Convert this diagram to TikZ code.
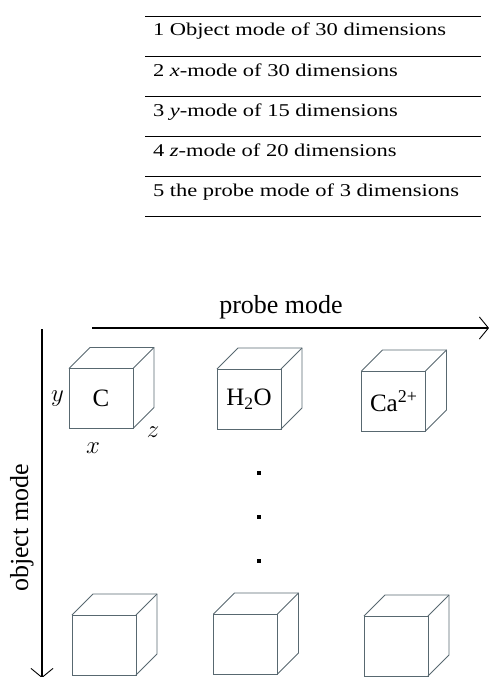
\documentclass[tikz,border=0pt]{standalone}
\usepackage{fontspec}
\setmainfont{Liberation Serif}
\newfontfamily\tabfont[FakeStretch=1.25]{Liberation Serif}
\usepackage{tikz}
\usetikzlibrary{arrows.meta,positioning}
\definecolor{cubeline}{RGB}{88,104,112}

\begin{document}
\begin{tikzpicture}[x=1pt, y=-1pt,
	every node/.style={inner sep=0pt, outer sep=0pt},
	rule/.style={line width=0.9pt},
	rowtext/.style={anchor=base west, font=\tabfont\fontsize{18}{20}\selectfont},
	modearrow/.style={line width=2.4pt, -{Straight Barb[length=9pt, width=22pt, line width=0.9pt]}},
	modelabel/.style={font=\fontsize{26}{28}\selectfont},
	face/.style={draw=cubeline, line width=0.9pt, minimum width=64pt, minimum height=60pt, font=\fontsize{25}{27}\selectfont},
	cubeedge/.style={draw=cubeline, line width=0.9pt},
	axlabel/.style={font=\fontsize{24}{26}\selectfont},
	dotmark/.style={fill=black, minimum size=3.8pt}]
	\useasboundingbox (0,0) rectangle (488,677);
	\foreach \r in {16,56,...,216} {\draw[rule] (145,\r) -- (481,\r);}
	\foreach \i/\t in {1/{Object mode of 30 dimensions}, 2/{\textit{x}-mode of 30 dimensions}, 3/{\textit{y}-mode of 15 dimensions}, 4/{\textit{z}-mode of 20 dimensions}, 5/{the probe mode of 3 dimensions}}
		{\node[rowtext] (row\i) at (153,{40*\i-4}) {\i{} \t};}
	\coordinate (ptail) at (92,328);
	\coordinate (phead) at (489,328);
	\draw[modearrow] (ptail) -- (phead);
	\node[modelabel, anchor=base] (probe) at (281,313) {probe mode};
	\coordinate (otail) at (42,329);
	\coordinate (ohead) at (42,678);
	\draw[modearrow] (otail) -- (ohead);
	\node[modelabel, anchor=base, rotate=90] (object) at (28,528) {object mode};
	\foreach \n/\x/\y/\t in {c/101/398.5/C, w/249/399/{H\textsubscript{2}O}, ca/393.5/401/{Ca\raisebox{9pt}{\fontsize{18}{18}\selectfont 2+}}, b1/104/645/{}, b2/245.5/644/{}, b3/396/646/{}} {
		\node[face] (\n) at (\x,\y) {\t};
		\draw[cubeedge] (\n.north west) -- ++(21,-21) -| ([shift={(21,-21)}]\n.south east) -- (\n.south east);
		\draw[cubeedge] (\n.north east) -- ++(21,-21);
	}
	\node[axlabel, left=5pt of c] (ylab) {$y$};
	\node[axlabel, below=14pt of c, xshift=-8pt] (xlab) {$x$};
	\node[axlabel] (zlab) at ([shift={(20,4)}]c.south east) {$z$};
	\foreach \k/\y in {1/473, 2/517, 3/561} {\node[dotmark] (dot\k) at (259,\y) {};}
\end{tikzpicture}
\end{document}
